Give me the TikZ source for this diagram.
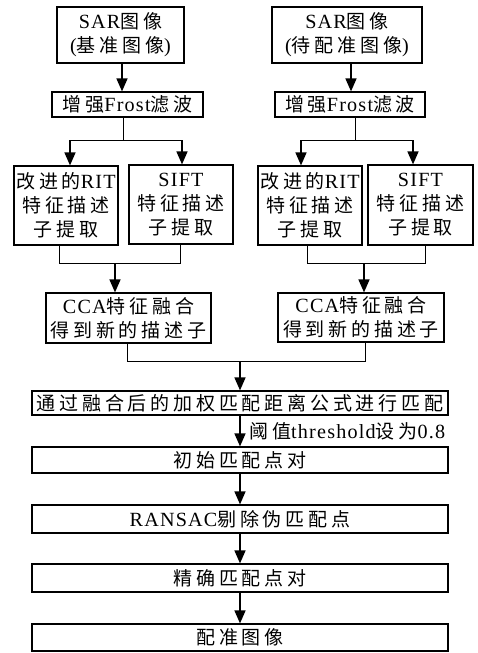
\documentclass[tikz,border=0pt]{standalone}
\usepackage{fontspec}
\setmainfont{Liberation Serif}[Scale=1.06,LetterSpace=6]
\newfontfamily\cjk{Noto Sans CJK SC}[LetterSpace=20]
\newcommand{\C}[1]{{\cjk #1}}
\usetikzlibrary{arrows.meta}
\begin{document}
\begin{tikzpicture}[x=1pt,y=-1pt,
  box/.style={draw,line width=1.2pt,inner sep=0pt,align=center,
    font=\fontsize{19}{24}\selectfont},
  arr/.style={line width=1.6pt,-{Triangle[width=11pt,length=13pt]}},
  ln/.style={line width=1pt}]
\useasboundingbox (0,0) rectangle (478,653);
\node[box,minimum width=127pt,minimum height=56pt] (sarL) at (120.5,35) {SAR\C{图像}\\(\C{基准图像})};
\node[box,minimum width=150pt,minimum height=56pt] (sarR) at (347,35) {SAR\C{图像}\\(\C{待配准图像})};
\node[box,minimum width=151pt,minimum height=25pt] (frostL) at (127.5,104.5) {\C{增强}Frost\C{滤波}};
\node[box,minimum width=150pt,minimum height=25pt] (frostR) at (350,104.5) {\C{增强}Frost\C{滤波}};
\node[box,minimum width=104pt,minimum height=79pt] (ritL) at (66,205.5) {\C{改进的}RIT\\\C{特征描述}\\\C{子提取}};
\node[box,minimum width=104pt,minimum height=79pt] (siftL) at (181,204.5) {SIFT\\\C{特征描述}\\\C{子提取}};
\node[box,minimum width=104pt,minimum height=79pt] (ritR) at (310,205.5) {\C{改进的}RIT\\\C{特征描述}\\\C{子提取}};
\node[box,minimum width=105pt,minimum height=80pt] (siftR) at (420.5,205) {SIFT\\\C{特征描述}\\\C{子提取}};
\node[box,minimum width=165pt,minimum height=50pt] (ccaL) at (128.5,318) {CCA\C{特征融合}\\\C{得到新的描述子}};
\node[box,minimum width=166pt,minimum height=49pt] (ccaR) at (361,317.5) {CCA\C{特征融合}\\\C{得到新的描述子}};
\node[box,minimum width=416pt,minimum height=24pt] (match) at (240,403) {\C{通过融合后的加权匹配距离公式进行匹配}};
\node[box,minimum width=416pt,minimum height=26pt] (init) at (240,460) {\C{初始匹配点对}};
\node[box,minimum width=416pt,minimum height=28pt] (ransac) at (240,519) {RANSAC\C{剔除伪匹配点}};
\node[box,minimum width=416pt,minimum height=28pt] (fine) at (240,578) {\C{精确匹配点对}};
\node[box,minimum width=416pt,minimum height=27pt] (reg) at (240,637.5) {\C{配准图像}};
% top arrows
\coordinate (aL) at (122,63);
\draw[arr] (aL) -- (aL |- frostL.north);
\coordinate (aR) at (351,63);
\draw[arr] (aR) -- (aR |- frostR.north);
% frost splits
\coordinate (jL) at (123,140);
\coordinate (jR) at (355,140);
\draw[ln] (jL |- frostL.south) -- (jL);
\draw[ln] (jR |- frostR.south) -- (jR);
\coordinate (tL1) at (70,140); \coordinate (tL2) at (182,140);
\coordinate (tR1) at (301,140); \coordinate (tR2) at (413,140);
\draw[ln] (tL1) -- (tL2);
\draw[ln] (tR1) -- (tR2);
\draw[arr] (tL1) -- (tL1 |- ritL.north);
\draw[arr] (tL2) -- (tL2 |- siftL.north);
\draw[arr] (tR1) -- (tR1 |- ritR.north);
\draw[arr] (tR2) -- (tR2 |- siftR.north);
% merges into CCA
\coordinate (mL1) at (59,263); \coordinate (mL2) at (180,263); \coordinate (mL) at (115,263);
\coordinate (mR1) at (307,263); \coordinate (mR2) at (425,263); \coordinate (mR) at (364,263);
\draw[ln] (mL1 |- ritL.south) -- (mL1) -- (mL2) -- (mL2 |- siftL.south);
\draw[ln] (mR1 |- ritR.south) -- (mR1) -- (mR2) -- (mR2 |- siftR.south);
\draw[arr] (mL) -- (mL |- ccaL.north);
\draw[arr] (mR) -- (mR |- ccaR.north);
% merge CCA
\coordinate (cL) at (127,361); \coordinate (cR) at (365,361); \coordinate (cM) at (240,361);
\draw[ln] (cL |- ccaL.south) -- (cL) -- (cR) -- (cR |- ccaR.south);
\draw[arr] (cM) -- (match.north);
% lower chain
\draw[arr] (match.south) -- (init.north) node[midway,right=5pt,font=\fontsize{19}{22}\selectfont]{\C{阈值}threshold\C{设为}0.8};
\draw[arr] (init) -- (ransac);
\draw[arr] (ransac) -- (fine);
\draw[arr] (fine) -- (reg);
\end{tikzpicture}
\end{document}
